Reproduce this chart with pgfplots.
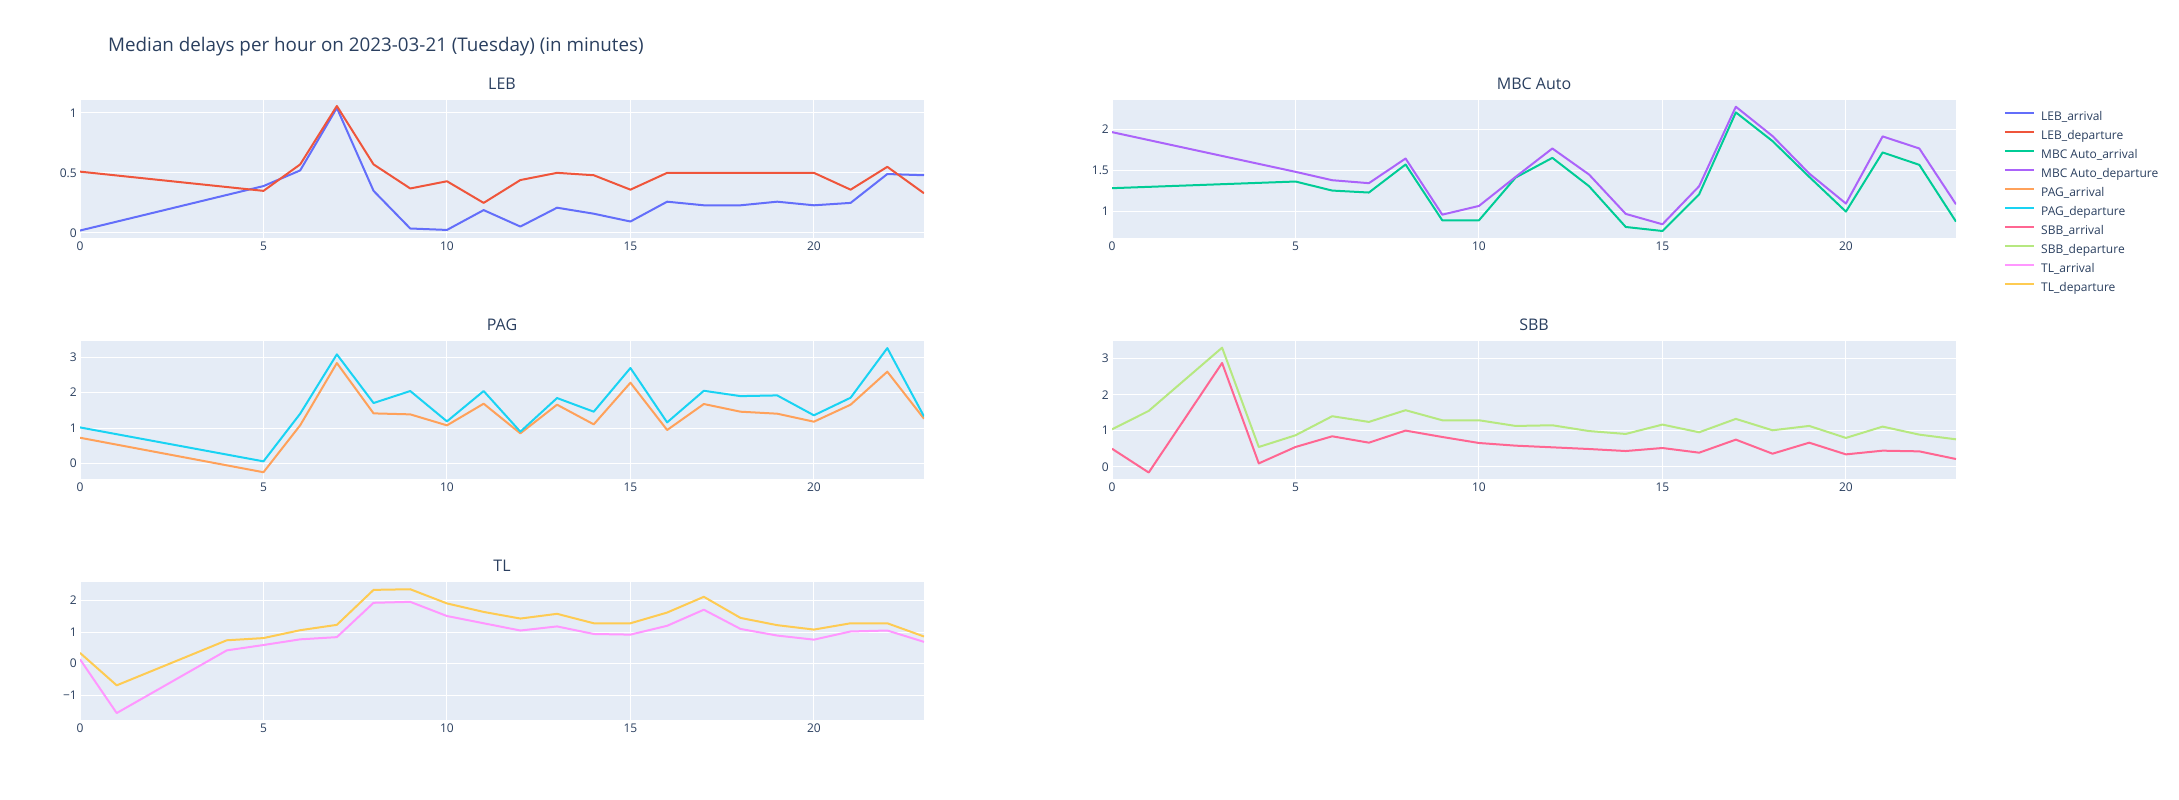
\documentclass[border=0pt]{standalone}
\usepackage{pgfplots}
\pgfplotsset{compat=1.18}
\usepackage{fontspec}
\setmainfont{Open Sans}
\definecolor{bgc}{HTML}{E5ECF6}
\definecolor{fc}{HTML}{2A3F5F}
\definecolor{c1}{HTML}{636EFA}
\definecolor{c2}{HTML}{EF553B}
\definecolor{c3}{HTML}{00CC96}
\definecolor{c4}{HTML}{AB63FA}
\definecolor{c5}{HTML}{FFA15A}
\definecolor{c6}{HTML}{19D3F3}
\definecolor{c7}{HTML}{FF6692}
\definecolor{c8}{HTML}{B6E880}
\definecolor{c9}{HTML}{FF97FF}
\definecolor{c10}{HTML}{FECB52}
\pgfplotsset{
  pl/.style={
    scale only axis, width=844pt, height=138pt, anchor=south west,
    xmin=0, xmax=23,
    axis background/.style={fill=bgc},
    axis line style={draw=none},
    xmajorgrids, ymajorgrids,
    major grid style={white, line width=1pt},
    major tick length=0pt, tick style={draw=none},
    xtick={0,5,10,15,20}, xticklabels={0,5,10,15,20},
    tick label style={font=\fontsize{12}{14}\selectfont, text=fc},
    xticklabel style={anchor=north, inner sep=0pt, yshift=-4pt},
    yticklabel style={anchor=east, inner sep=0pt, xshift=-3pt},
    title style={font=\fontsize{16}{19}\selectfont, text=fc, at={(0.5,1)}, anchor=base, yshift=4.5pt, inner sep=0pt},
    every axis plot/.append style={line width=2pt, mark=none, line join=round},
  },
  zl/.style={extra y ticks={0}, extra y tick labels={}, extra y tick style={grid style={white, line width=2pt}}},
}
\begin{document}
\begin{tikzpicture}[x=1pt,y=1pt]
\useasboundingbox (0,0) rectangle (2179,800);
\node[anchor=base west, font=\fontsize{18.8}{22}\selectfont, text=fc, inner sep=0pt] at (108,748.5) {Median delays per hour on 2023-03-21 (Tuesday) (in minutes)};
% LEB
\begin{axis}[pl, zl, at={(80pt,562pt)}, ymin=-0.042, ymax=1.106, ytick={0,0.5,1}, yticklabels={0,0.5,1}, title={LEB}]
\addplot[c1] coordinates {(0,0.02)(5,0.39)(6,0.52)(7,1.04)(8,0.35)(9,0.037)(10,0.025)(11,0.19)(12,0.053)(13,0.21)(14,0.16)(15,0.095)(16,0.26)(17,0.23)(18,0.23)(19,0.26)(20,0.23)(21,0.25)(22,0.49)(23,0.48)};
\addplot[c2] coordinates {(0,0.51)(5,0.35)(6,0.57)(7,1.056)(8,0.57)(9,0.37)(10,0.43)(11,0.25)(12,0.44)(13,0.5)(14,0.48)(15,0.36)(16,0.5)(17,0.5)(18,0.5)(19,0.5)(20,0.5)(21,0.36)(22,0.55)(23,0.33)};
\end{axis}
% MBC Auto
\begin{axis}[pl, at={(1112pt,562pt)}, ymin=0.679, ymax=2.358, ytick={1,1.5,2}, yticklabels={1,1.5,2}, title={MBC Auto},
  legend style={at={(1.0533,0.933)}, anchor=north west, draw=none, fill=none, font=\fontsize{12}{14}\selectfont, text=fc,
    nodes={inner sep=0pt, text height=9pt, text depth=3pt}, row sep=7pt, column sep=6pt},
  legend cell align=left,
  legend image code/.code={\draw[#1, line width=2pt] (0pt,4pt) -- (29pt,4pt);}]
\addlegendimage{c1}\addlegendentry{LEB\_arrival}
\addlegendimage{c2}\addlegendentry{LEB\_departure}
\addlegendimage{c3}\addlegendentry{MBC Auto\_arrival}
\addlegendimage{c4}\addlegendentry{MBC Auto\_departure}
\addlegendimage{c5}\addlegendentry{PAG\_arrival}
\addlegendimage{c6}\addlegendentry{PAG\_departure}
\addlegendimage{c7}\addlegendentry{SBB\_arrival}
\addlegendimage{c8}\addlegendentry{SBB\_departure}
\addlegendimage{c9}\addlegendentry{TL\_arrival}
\addlegendimage{c10}\addlegendentry{TL\_departure}
\addplot[c3, forget plot] coordinates {(0,1.285)(5,1.366)(6,1.256)(7,1.232)(8,1.573)(9,0.894)(10,0.894)(11,1.415)(12,1.654)(13,1.309)(14,0.813)(15,0.764)(16,1.211)(17,2.207)(18,1.858)(19,1.423)(20,1.0)(21,1.72)(22,1.569)(23,0.878)};
\addplot[c4, forget plot] coordinates {(0,1.967)(5,1.484)(6,1.382)(7,1.346)(8,1.646)(9,0.963)(10,1.069)(11,1.423)(12,1.768)(13,1.451)(14,0.972)(15,0.846)(16,1.309)(17,2.276)(18,1.919)(19,1.463)(20,1.098)(21,1.915)(22,1.768)(23,1.089)};
\end{axis}
% PAG
\begin{axis}[pl, zl, at={(80pt,321pt)}, ymin=-0.43, ymax=3.45, ytick={0,1,2,3}, yticklabels={0,1,2,3}, title={PAG}]
\addplot[c5] coordinates {(0,0.73)(5,-0.24)(6,1.08)(7,2.83)(8,1.415)(9,1.387)(10,1.078)(11,1.687)(12,0.853)(13,1.659)(14,1.106)(15,2.277)(16,0.947)(17,1.678)(18,1.462)(19,1.406)(20,1.181)(21,1.659)(22,2.587)(23,1.265)};
\addplot[c6] coordinates {(0,1.02)(5,0.066)(6,1.406)(7,3.074)(8,1.706)(9,2.043)(10,1.19)(11,2.043)(12,0.9)(13,1.846)(14,1.462)(15,2.69)(16,1.162)(17,2.05)(18,1.9)(19,1.92)(20,1.36)(21,1.855)(22,3.25)(23,1.33)};
\end{axis}
% SBB
\begin{axis}[pl, zl, at={(1112pt,321pt)}, ymin=-0.34, ymax=3.49, ytick={0,1,2,3}, yticklabels={0,1,2,3}, title={SBB}]
\addplot[c7] coordinates {(0,0.50)(1,-0.16)(3,2.88)(4,0.093)(5,0.548)(6,0.845)(7,0.668)(8,1.003)(9,0.826)(10,0.659)(11,0.585)(12,0.539)(13,0.492)(14,0.436)(15,0.52)(16,0.39)(17,0.752)(18,0.362)(19,0.668)(20,0.343)(21,0.446)(22,0.427)(23,0.214)};
\addplot[c8] coordinates {(0,1.04)(1,1.55)(3,3.305)(4,0.548)(5,0.873)(6,1.402)(7,1.244)(8,1.569)(9,1.29)(10,1.29)(11,1.132)(12,1.151)(13,0.99)(14,0.91)(15,1.17)(16,0.956)(17,1.328)(18,1.012)(19,1.133)(20,0.8)(21,1.114)(22,0.891)(23,0.761)};
\end{axis}
% TL
\begin{axis}[pl, zl, at={(80pt,80pt)}, ymin=-1.79, ymax=2.59, ytick={-1,0,1,2}, yticklabels={−1,0,1,2}, title={TL}]
\addplot[c9] coordinates {(0,0.137)(1,-1.57)(4,0.42)(5,0.59)(6,0.77)(7,0.84)(8,1.93)(9,1.96)(10,1.51)(11,1.28)(12,1.05)(13,1.18)(14,0.94)(15,0.92)(16,1.2)(17,1.71)(18,1.1)(19,0.89)(20,0.76)(21,1.02)(22,1.05)(23,0.69)};
\addplot[c10] coordinates {(0,0.34)(1,-0.69)(4,0.74)(5,0.81)(6,1.06)(7,1.23)(8,2.34)(9,2.36)(10,1.91)(11,1.64)(12,1.43)(13,1.58)(14,1.28)(15,1.28)(16,1.62)(17,2.12)(18,1.45)(19,1.22)(20,1.08)(21,1.28)(22,1.28)(23,0.86)};
\end{axis}
\end{tikzpicture}
\end{document}
